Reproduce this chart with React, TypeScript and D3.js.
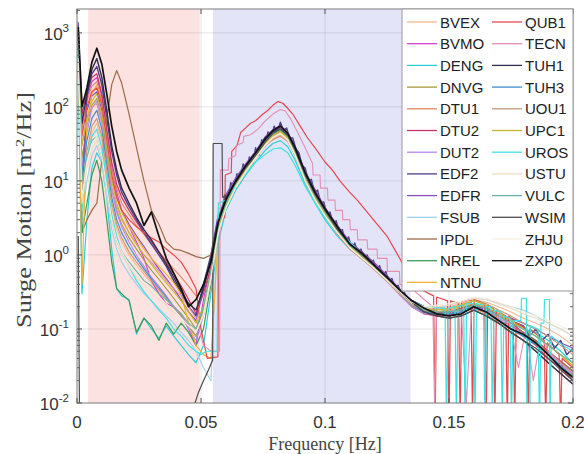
import React from 'react';
import * as d3 from 'd3';

// ---------- axes ----------
const X_DOMAIN: [number, number] = [0, 0.2];
const Y_DOMAIN: [number, number] = [0.01, 2100];
const X_TICKS = [0, 0.05, 0.1, 0.15, 0.2];
const X_TICK_LABELS = ['0', '0.05', '0.1', '0.15', '0.2'];
const Y_EXPONENTS = [-2, -1, 0, 1, 2, 3];
const RED_BAND = [0.0045, 0.0495];
const BLUE_BAND = [0.0548, 0.1345];

// ---------- shared frequency grid ----------
const F = [
  0.0005, 0.002, 0.004, 0.006, 0.008, 0.010, 0.012, 0.014, 0.016, 0.018,
  0.021, 0.024, 0.027, 0.030, 0.033, 0.036, 0.039, 0.042, 0.045, 0.048,
  0.051, 0.054, 0.057, 0.060, 0.064, 0.068, 0.072, 0.076, 0.079, 0.082,
  0.085, 0.088, 0.092, 0.096, 0.100, 0.105, 0.110, 0.115, 0.120, 0.125,
  0.130, 0.135, 0.140, 0.145, 0.150, 0.155, 0.160, 0.165, 0.170, 0.175,
  0.180, 0.185, 0.190, 0.195, 0.200,
];

const BVEX = [
  600, 6, 20, 45, 60, 35, 12, 4.5, 2.3, 1.5,
  1.0, 0.72, 0.55, 0.42, 0.32, 0.25, 0.19, 0.15, 0.11, 0.08,
  0.16, 0.5, 2.2, 4.5, 8.5, 13.5, 21, 32, 39, 44,
  36, 23, 10.5, 5.8, 3.5, 2, 1.25, 0.92, 0.66, 0.46,
  0.31, 0.22, 0.19, 0.19, 0.2, 0.22, 0.25, 0.23, 0.2, 0.17,
  0.14, 0.12, 0.1, 0.08, 0.06,
];
const BVMO = [
  1100, 120, 130, 220, 250, 140, 45, 15, 7, 4,
  2.4, 1.5, 0.9, 0.45, 0.3, 0.22, 0.2, 0.16, 0.1, 0.06,
  0.25, 0.7, 2.8, 5.5, 10, 16, 24, 37, 47, 54,
  43, 27, 13, 7.5, 4.3, 2.4, 1.45, 1.05, 0.75, 0.5,
  0.33, 0.22, 0.18, 0.17, 0.17, 0.18, 0.21, 0.18, 0.14, 0.11,
  0.09, 0.07, 0.05, 0.035, 0.025,
];
const DENG = [
  300, 0.3, 3, 15, 24, 18, 6, 1.2, 0.35, 0.28,
  0.25, 0.085, 0.14, 0.1, 0.075, 0.11, 0.08, 0.06, 0.045, 0.035,
  0.06, 0.3, 1.5, 4, 7.5, 12, 18, 26, 32, 35,
  29, 19, 9, 5, 3, 1.8, 1.2, 0.9, 0.65, 0.45,
  0.3, 0.21, 0.17, 0.16, 0.17, 0.18, 0.2, 0.18, 0.15, 0.12,
  0.1, 0.09, 0.07, 0.05, 0.035,
];
const DNVG = [
  850, 20, 55, 105, 130, 70, 24, 8, 4, 2.6,
  1.7, 1.2, 0.85, 0.62, 0.47, 0.35, 0.26, 0.19, 0.14, 0.1,
  0.18, 0.55, 2.3, 4.6, 8.8, 14, 21, 32, 41, 46,
  37, 23, 10.5, 5.8, 3.5, 2, 1.25, 0.9, 0.65, 0.45,
  0.3, 0.21, 0.17, 0.17, 0.18, 0.2, 0.22, 0.19, 0.15, 0.12,
  0.09, 0.07, 0.05, 0.036, 0.026,
];
const DTU1 = [
  950, 50, 120, 190, 220, 120, 40, 14, 8, 5,
  3.5, 2.5, 1.9, 1.4, 1.1, 0.85, 0.65, 0.5, 0.38, 0.28,
  0.35, 0.8, 2.4, 4.5, 8.5, 14, 21, 30, 36, 40,
  34, 22, 10, 5.5, 3.5, 2.0, 1.3, 0.95, 0.65, 0.45,
  0.3, 0.21, 0.17, 0.16, 0.16, 0.17, 0.19, 0.16, 0.12, 0.09,
  0.07, 0.05, 0.035, 0.025, 0.018,
];
const DTU2 = [
  900, 80, 160, 250, 280, 150, 50, 18, 9, 6,
  4, 2.8, 2, 1.5, 1.1, 0.8, 0.55, 0.38, 0.25, 0.16,
  0.3, 0.7, 2.6, 5, 9, 15, 22, 35, 45, 51,
  41, 26, 12, 6.8, 4, 2.3, 1.4, 1.0, 0.7, 0.47,
  0.3, 0.2, 0.16, 0.15, 0.15, 0.17, 0.19, 0.17, 0.13, 0.1,
  0.08, 0.06, 0.04, 0.03, 0.02,
];
const DUT2 = [
  800, 15, 45, 95, 120, 65, 22, 7.5, 3.8, 2.4,
  1.5, 1.0, 0.7, 0.5, 0.38, 0.28, 0.2, 0.15, 0.1, 0.07,
  0.15, 0.5, 2.2, 4.4, 8.5, 13.5, 20.5, 31, 40, 45,
  36, 22.5, 10.2, 5.6, 3.4, 1.95, 1.2, 0.88, 0.63, 0.44,
  0.29, 0.2, 0.16, 0.16, 0.17, 0.19, 0.21, 0.18, 0.14, 0.11,
  0.085, 0.065, 0.048, 0.034, 0.024,
];
const EDFR = [
  1400, 8, 90, 140, 160, 90, 30, 11, 6, 4,
  2.6, 1.8, 1.3, 0.9, 0.65, 0.48, 0.35, 0.25, 0.17, 0.13,
  0.35, 0.9, 3.2, 6.5, 11, 17, 25, 40, 49, 56,
  45, 29, 13.5, 7.6, 4.4, 2.5, 1.5, 1.1, 0.78, 0.53,
  0.35, 0.24, 0.19, 0.17, 0.16, 0.17, 0.2, 0.19, 0.16, 0.14,
  0.12, 0.1, 0.08, 0.065, 0.055,
];
const FSUB = [
  500, 3, 10, 22, 30, 18, 6, 2.2, 1.2, 0.8,
  0.55, 0.4, 0.3, 0.24, 0.19, 0.15, 0.12, 0.09, 0.07, 0.05,
  0.03, 0.02, 4, 5.5, 9, 14, 21, 32, 41, 46,
  37, 23, 10.5, 5.7, 3.5, 2, 1.25, 0.92, 0.66, 0.46,
  0.31, 0.22, 0.19, 0.19, 0.21, 0.23, 0.26, 0.25, 0.22, 0.2,
  0.18, 0.15, 0.12, 0.1, 0.08,
];
const IPDL = [
  700, 2, 3, 4, 5, 19, 70, 200, 310, 210,
  80, 28, 10, 4, 2.6, 1.5, 1.2, 1.15, 1.05, 0.95,
  0.9, 1.0, 2.5, 4.8, 9, 14.5, 22, 33, 42, 47,
  38, 24, 11, 6, 3.6, 2.1, 1.3, 0.95, 0.68, 0.47,
  0.32, 0.22, 0.18, 0.17, 0.17, 0.19, 0.22, 0.19, 0.15, 0.12,
  0.09, 0.07, 0.05, 0.037, 0.027,
];
const NREL = [
  500, 2, 5, 12, 19, 10, 3, 0.8, 0.35, 0.3,
  0.24, 0.09, 0.14, 0.11, 0.07, 0.12, 0.085, 0.12, 0.09, 0.06,
  0.1, 0.4, 2.2, 5, 9, 14, 21, 33, 42, 48,
  39, 24, 11, 6, 3.6, 2.1, 1.3, 0.95, 0.68, 0.46,
  0.31, 0.22, 0.17, 0.16, 0.16, 0.17, 0.2, 0.17, 0.13, 0.1,
  0.08, 0.065, 0.045, 0.032, 0.023,
];
const NTNU = [
  1000, 0.4, 60, 150, 200, 110, 35, 12, 6, 3.8,
  2.4, 1.7, 1.2, 0.9, 0.7, 0.55, 0.42, 0.3, 0.12, 0.06,
  0.045, 0.04, 2, 4.5, 8.5, 14, 21, 32, 40, 45,
  37, 23, 10, 5.6, 3.4, 2, 1.25, 0.92, 0.65, 0.45,
  0.3, 0.22, 0.18, 0.17, 0.18, 0.2, 0.22, 0.2, 0.16, 0.13,
  0.1, 0.08, 0.06, 0.045, 0.03,
];
const TUH1 = [
  1000, 60, 150, 320, 450, 250, 90, 30, 14, 8,
  5, 3.2, 2.2, 1.6, 1.1, 0.75, 0.5, 0.32, 0.22, 0.18,
  0.35, 0.9, 3, 6, 10, 15, 23, 36, 46, 50,
  40, 26, 12, 6.5, 3.9, 2.2, 1.35, 1.0, 0.7, 0.48,
  0.32, 0.22, 0.17, 0.15, 0.14, 0.15, 0.18, 0.15, 0.12, 0.09,
  0.07, 0.05, 0.035, 0.025, 0.018,
];
const TUH3 = [
  750, 12, 35, 70, 90, 50, 17, 6, 3, 2,
  1.3, 0.9, 0.65, 0.48, 0.36, 0.27, 0.2, 0.15, 0.11, 0.08,
  0.16, 0.5, 2.3, 4.7, 9, 14.5, 22, 34, 44, 50,
  40, 25, 11.5, 6.2, 3.8, 2.15, 1.3, 0.96, 0.68, 0.46,
  0.31, 0.21, 0.17, 0.16, 0.16, 0.17, 0.2, 0.17, 0.13, 0.1,
  0.08, 0.062, 0.045, 0.032, 0.022,
];
const UOU1 = [
  700, 8, 25, 55, 70, 40, 14, 5, 2.6, 1.7,
  1.1, 0.8, 0.6, 0.45, 0.34, 0.26, 0.2, 0.15, 0.11, 0.08,
  0.17, 0.5, 2.1, 4.3, 8.2, 13, 20, 30, 37, 42,
  35, 22, 10, 5.5, 3.3, 1.9, 1.2, 0.88, 0.63, 0.44,
  0.3, 0.21, 0.18, 0.18, 0.19, 0.21, 0.24, 0.22, 0.18, 0.15,
  0.12, 0.1, 0.08, 0.06, 0.045,
];
const UPC1 = [
  900, 30, 70, 120, 150, 80, 28, 10, 5, 3.2,
  2, 1.4, 1.0, 0.75, 0.55, 0.42, 0.32, 0.24, 0.17, 0.12,
  0.2, 0.6, 2.4, 4.8, 9, 14.5, 22, 33, 42, 47,
  38, 24, 11, 6, 3.7, 2.1, 1.3, 0.95, 0.68, 0.47,
  0.32, 0.23, 0.19, 0.18, 0.19, 0.21, 0.24, 0.21, 0.17, 0.13,
  0.1, 0.08, 0.06, 0.045, 0.032,
];
const USTU = [
  400, 5, 15, 28, 35, 20, 7, 2.8, 1.5, 1.0,
  0.7, 0.5, 0.4, 0.32, 0.26, 0.21, 0.17, 0.14, 0.11, 0.09,
  0.15, 0.45, 2, 4.2, 8, 13, 20, 30, 38, 43,
  35, 22, 10, 5.5, 3.4, 2, 1.25, 0.9, 0.65, 0.45,
  0.31, 0.22, 0.19, 0.2, 0.21, 0.23, 0.26, 0.25, 0.22, 0.19,
  0.16, 0.14, 0.12, 0.1, 0.08,
];
const VULC = [
  700, 10, 20, 35, 40, 22, 8, 3, 1.6, 1.1,
  0.8, 0.6, 0.45, 0.38, 0.3, 0.25, 0.2, 0.16, 0.12, 0.1,
  0.2, 0.6, 2.5, 5, 9.5, 15, 22, 34, 43, 49,
  40, 25, 11.5, 6.2, 3.8, 2.2, 1.35, 1.0, 0.7, 0.48,
  0.32, 0.23, 0.18, 0.17, 0.17, 0.18, 0.21, 0.19, 0.15, 0.12,
  0.1, 0.08, 0.06, 0.045, 0.035,
];
const ZHJU = [
  450, 6, 18, 32, 40, 22, 8, 3, 1.6, 1.1,
  0.75, 0.55, 0.42, 0.33, 0.27, 0.22, 0.18, 0.14, 0.11, 0.09,
  0.16, 0.5, 2.1, 4.3, 8.3, 13.5, 20.5, 31, 39, 44,
  36, 22.5, 10.2, 5.6, 3.4, 2, 1.25, 0.9, 0.65, 0.46,
  0.32, 0.23, 0.2, 0.21, 0.22, 0.24, 0.27, 0.26, 0.23, 0.2,
  0.17, 0.15, 0.13, 0.11, 0.09,
];
const ZXP0 = [
  1200, 100, 180, 400, 620, 380, 150, 55, 25, 14,
  8, 5, 2.5, 3.8, 1.8, 0.9, 0.57, 0.35, 0.2, 0.25,
  0.4, 0.8, 2.8, 5.5, 10, 16, 24, 38, 48, 55,
  44, 28, 13, 7, 4.2, 2.4, 1.4, 1.05, 0.72, 0.5,
  0.34, 0.24, 0.19, 0.16, 0.15, 0.16, 0.2, 0.17, 0.13, 0.1,
  0.085, 0.065, 0.045, 0.03, 0.022,
];

// ---------- series with their own frequency samples ----------
const EDF2_F = [
  0.0005, 0.002, 0.004, 0.006, 0.008, 0.010, 0.012, 0.014, 0.016, 0.018,
  0.021, 0.024, 0.027, 0.030, 0.033, 0.036, 0.039, 0.042, 0.045, 0.048,
  0.051, 0.054, 0.0570, 0.0583, 0.0595, 0.0608, 0.0620, 0.0633, 0.0645, 0.0658,
  0.0670, 0.0683, 0.0695, 0.0708, 0.0720, 0.0733, 0.0745, 0.0758, 0.0770, 0.0783,
  0.0795, 0.0808, 0.0820, 0.0833, 0.0845, 0.0858, 0.0870, 0.0883, 0.0895, 0.0908,
  0.0920, 0.0933, 0.0945, 0.0958, 0.0970, 0.0983, 0.0995, 0.1008, 0.1020, 0.1033,
  0.1045, 0.1058, 0.1070, 0.1083, 0.1095, 0.1108, 0.1120, 0.1133, 0.1145, 0.1158,
  0.1170, 0.1183, 0.1195, 0.1208, 0.1220, 0.1233, 0.1245, 0.1258, 0.1270, 0.1283,
  0.1295, 0.1308, 0.1320, 0.1333, 0.1345, 0.140, 0.145, 0.150, 0.155, 0.160,
  0.165, 0.170, 0.175, 0.180, 0.1825, 0.185, 0.1875, 0.190, 0.1925, 0.195,
  0.1975, 0.200,
];
const EDF2_V = [
  1300, 5, 140, 280, 350, 200, 70, 25, 12, 7,
  4.5, 3, 2, 1.4, 1.0, 0.7, 0.45, 0.3, 0.2, 0.15,
  0.4, 1.0, 3.5, 2.8, 6.5, 5.2, 9.5, 7.5, 12.5, 10,
  17, 13.5, 21, 17, 28, 22, 36, 29, 46, 38,
  55, 45, 62, 48, 52, 38, 38, 27, 24, 16,
  15, 10, 10.5, 7, 7.5, 5, 5.2, 3.5, 3.8, 2.6,
  2.9, 2.0, 2.2, 1.5, 1.75, 1.25, 1.45, 1.05, 1.2, 0.9,
  1.0, 0.75, 0.85, 0.62, 0.72, 0.52, 0.6, 0.43, 0.48, 0.35,
  0.39, 0.29, 0.31, 0.24, 0.25, 0.2, 0.17, 0.16, 0.17, 0.2,
  0.19, 0.16, 0.13, 0.11, 0.08, 0.1, 0.07, 0.085, 0.055, 0.07,
  0.045, 0.055,
];
const QUB1_F = [
  0.0005, 0.002, 0.004, 0.006, 0.008, 0.010, 0.012, 0.014, 0.016, 0.018,
  0.021, 0.024, 0.027, 0.030, 0.033, 0.036, 0.039, 0.042, 0.045, 0.048,
  0.050, 0.0525, 0.0568, 0.0572, 0.0596, 0.0598, 0.0622, 0.0624, 0.0645, 0.066,
  0.068, 0.070, 0.072, 0.075, 0.077, 0.079, 0.081, 0.083, 0.085, 0.087,
  0.090, 0.093, 0.096, 0.100, 0.103, 0.106, 0.110, 0.113, 0.117, 0.121,
  0.125, 0.128, 0.131, 0.134, 0.138, 0.1438, 0.1444, 0.145, 0.1494, 0.150,
  0.1506, 0.1539, 0.1545, 0.1551, 0.1589, 0.1595, 0.1601, 0.1644, 0.165, 0.1656,
  0.1679, 0.1685, 0.1691, 0.1729, 0.1735, 0.1741, 0.1759, 0.1765, 0.1771, 0.1814,
  0.182, 0.1826, 0.1884, 0.189, 0.1896, 0.1944, 0.195, 0.1956, 0.200,
];
const QUB1_V = [
  1000, 40, 100, 160, 180, 110, 35, 12, 6, 4,
  3, 2.4, 2, 1.7, 1.5, 1.2, 1.0, 0.8, 0.55, 0.35,
  0.1, 0.04, 0.042, 3, 3.2, 12, 13, 25, 30, 45,
  52, 60, 65, 80, 90, 105, 118, 112, 95, 80,
  55, 38, 28, 18, 14, 10, 7, 5.5, 3.8, 2.6,
  1.8, 1.2, 0.8, 0.5, 0.35, 0.28, 0.005, 0.27, 0.24, 0.005,
  0.24, 0.22, 0.005, 0.23, 0.25, 0.005, 0.25, 0.22, 0.005, 0.21,
  0.19, 0.005, 0.18, 0.15, 0.005, 0.15, 0.13, 0.005, 0.12, 0.1,
  0.005, 0.1, 0.07, 0.005, 0.065, 0.045, 0.005, 0.04, 0.03,
];
const TECN_F = [
  0.0005, 0.002, 0.004, 0.006, 0.008, 0.010, 0.012, 0.014, 0.016, 0.018,
  0.021, 0.024, 0.027, 0.030, 0.033, 0.036, 0.039, 0.042, 0.045, 0.048,
  0.051, 0.054, 0.0575, 0.0578, 0.061, 0.0612, 0.064, 0.0642, 0.067, 0.0672,
  0.070, 0.073, 0.076, 0.079, 0.082, 0.084, 0.086, 0.089, 0.092, 0.095,
  0.0952, 0.098, 0.0982, 0.101, 0.1012, 0.104, 0.1042, 0.107, 0.1072, 0.110,
  0.1102, 0.113, 0.1132, 0.117, 0.1172, 0.121, 0.1212, 0.125, 0.1252, 0.130,
  0.1302, 0.135, 0.140, 0.1435, 0.1442, 0.145, 0.150, 0.155, 0.157, 0.159,
  0.162, 0.165, 0.170, 0.1745, 0.178, 0.181, 0.184, 0.187, 0.190, 0.195,
  0.200,
];
const TECN_V = [
  800, 30, 70, 100, 110, 60, 20, 8, 4.5, 3,
  2, 1.4, 1.0, 0.8, 0.6, 0.45, 0.35, 0.28, 0.2, 0.14,
  0.06, 0.05, 0.05, 14, 14, 20, 22, 30, 33, 40,
  42, 50, 65, 80, 92, 88, 70, 45, 28, 17,
  12, 12, 8, 8, 5.5, 5.5, 4, 4, 3, 3,
  2.2, 2.2, 1.6, 1.6, 1.2, 1.2, 0.9, 0.9, 0.6, 0.6,
  0.4, 0.35, 0.25, 0.2, 0.008, 0.2, 0.18, 0.17, 0.01, 0.17,
  0.19, 0.17, 0.14, 0.12, 0.03, 0.1, 0.02, 0.08, 0.05, 0.035,
  0.025,
];
const UROS_F = [
  0.0005, 0.002, 0.004, 0.006, 0.008, 0.010, 0.012, 0.014, 0.016, 0.018,
  0.021, 0.024, 0.027, 0.030, 0.033, 0.036, 0.039, 0.042, 0.045, 0.048,
  0.050, 0.052, 0.055, 0.0565, 0.057, 0.060, 0.064, 0.068, 0.072, 0.076,
  0.079, 0.082, 0.085, 0.088, 0.092, 0.096, 0.100, 0.105, 0.110, 0.115,
  0.120, 0.125, 0.130, 0.135, 0.140, 0.1484, 0.149, 0.1496, 0.1524, 0.153,
  0.1536, 0.1559, 0.1565, 0.1571, 0.1599, 0.1605, 0.1611, 0.1639, 0.1645, 0.1651,
  0.1669, 0.1675, 0.1681, 0.1709, 0.1715, 0.1721, 0.1746, 0.1752, 0.1758, 0.179,
  0.1792, 0.1812, 0.1814, 0.1826, 0.1828, 0.1859, 0.1865, 0.1871, 0.1883, 0.1885,
  0.1905, 0.1907, 0.1913, 0.196, 0.200,
];
const UROS_V = [
  600, 4, 20, 40, 50, 28, 10, 3.5, 1.8, 1.1,
  0.7, 0.45, 0.32, 0.24, 0.18, 0.14, 0.1, 0.08, 0.06, 0.05,
  0.045, 0.05, 0.05, 0.05, 5, 5.5, 8.5, 13, 18, 23,
  27, 28, 24, 16, 8.5, 5, 3.2, 2, 1.5, 1.0,
  0.7, 0.48, 0.33, 0.24, 0.2, 0.19, 0.005, 0.19, 0.2, 0.005,
  0.2, 0.21, 0.005, 0.22, 0.22, 0.005, 0.22, 0.21, 0.005, 0.2,
  0.2, 0.005, 0.18, 0.17, 0.005, 0.15, 0.14, 0.005, 0.13, 0.13,
  0.26, 0.26, 0.005, 0.005, 0.11, 0.1, 0.005, 0.12, 0.12, 0.25,
  0.25, 0.005, 0.08, 0.06, 0.05,
];
const WSIM_F = [
  0.0005, 0.0012, 0.046, 0.0476, 0.049, 0.051, 0.053, 0.0547, 0.0549, 0.0585,
  0.0587, 0.061, 0.064, 0.068, 0.072, 0.076, 0.079, 0.082, 0.085, 0.088,
  0.092, 0.096, 0.100, 0.105, 0.110, 0.115, 0.120, 0.125, 0.130, 0.135,
  0.140, 0.145, 0.150, 0.155, 0.160, 0.165, 0.170, 0.175, 0.180, 0.185,
  0.190, 0.195, 0.200,
];
const WSIM_V = [
  1.8, 0.001, 0.001, 0.01, 0.014, 0.02, 0.028, 0.038, 32, 32,
  6, 6.5, 9.5, 15, 22, 34, 44, 50, 41, 26,
  12, 6.5, 4, 2.2, 1.4, 1.0, 0.7, 0.48, 0.32, 0.23,
  0.17, 0.15, 0.14, 0.15, 0.18, 0.15, 0.12, 0.09, 0.07, 0.055,
  0.04, 0.028, 0.02,
];

const NAMES = [
  'BVEX', 'BVMO', 'DENG', 'DNVG', 'DTU1', 'DTU2', 'DUT2', 'EDF2', 'EDFR', 'FSUB', 'IPDL', 'NREL', 'NTNU',
  'QUB1', 'TECN', 'TUH1', 'TUH3', 'UOU1', 'UPC1', 'UROS', 'USTU', 'VULC', 'WSIM', 'ZHJU', 'ZXP0',
];
const COLORS = [
  '#f4b98a', '#d33fd3', '#2ccfd8', '#a89a3a', '#e0876a', '#cc3366', '#b68ae6', '#4f3f88', '#8650b8',
  '#9fd0ea', '#9c6b4a', '#3a9a5a', '#f2b233', '#e5494f', '#e58fb5', '#2e2e4e', '#3f8fd0', '#c49a7a',
  '#c4b52a', '#3fe3e3', '#efdcc4', '#6bb3a3', '#4d4d4d', '#f6eedd', '#111111',
];
const WIDTHS = [
  1.1, 1.2, 1.2, 1.1, 1.1, 1.2, 1.1, 1.4, 1.2, 1.1, 1.2, 1.2, 1.2,
  1.2, 1.1, 1.4, 1.2, 1.1, 1.1, 1.2, 1.1, 1.1, 1.2, 1.1, 1.7,
];
const DATA: [number[], number[]][] = [
  [F, BVEX], [F, BVMO], [F, DENG], [F, DNVG], [F, DTU1], [F, DTU2], [F, DUT2], [EDF2_F, EDF2_V], [F, EDFR],
  [F, FSUB], [F, IPDL], [F, NREL], [F, NTNU], [QUB1_F, QUB1_V], [TECN_F, TECN_V], [F, TUH1], [F, TUH3],
  [F, UOU1], [F, UPC1], [UROS_F, UROS_V], [F, USTU], [F, VULC], [WSIM_F, WSIM_V], [F, ZHJU], [F, ZXP0],
];

const M = { left: 77, right: 573, top: 9, bottom: 403 };
const SANS = '"Liberation Sans", Arial, Helvetica, sans-serif';
const SERIF = '"Liberation Serif", "Times New Roman", serif';

export default function App() {
  const x = d3.scaleLinear().domain(X_DOMAIN).range([M.left, M.right]);
  const y = d3.scaleLog().domain(Y_DOMAIN).range([M.bottom, M.top]);
  const line = d3
    .line<[number, number]>()
    .x((d) => x(d[0]))
    .y((d) => y(Math.max(d[1], 1e-4)));

  const minor: number[] = [];
  Y_EXPONENTS.forEach((e) => {
    for (let k = 2; k <= 9; k++) {
      const v = k * Math.pow(10, e);
      if (v <= Y_DOMAIN[1]) minor.push(v);
    }
  });

  const legX = 402, legY = 9, legW = 171, legH = 282;
  const rowY0 = 22, rowH = 21.7;
  const colX = [407, 492];

  return (
    <svg width={584} height={454} style={{ position: 'absolute', left: 0, top: 0, background: '#fff' }}>
      <defs>
        <clipPath id="plotclip">
          <rect x={M.left} y={M.top} width={M.right - M.left} height={M.bottom - M.top} />
        </clipPath>
      </defs>
      <rect x={0} y={0} width={584} height={454} fill="#fff" />
      {/* bands */}
      <rect x={x(RED_BAND[0])} y={M.top} width={x(RED_BAND[1]) - x(RED_BAND[0])} height={M.bottom - M.top} fill="#fde2e2" />
      <rect x={x(BLUE_BAND[0])} y={M.top} width={x(BLUE_BAND[1]) - x(BLUE_BAND[0])} height={M.bottom - M.top} fill="#e4e4f8" />
      {/* grid */}
      {X_TICKS.slice(1, -1).map((t) => (
        <line key={'gx' + t} x1={x(t)} x2={x(t)} y1={M.top} y2={M.bottom} stroke="#000" strokeOpacity={0.1} />
      ))}
      {Y_EXPONENTS.slice(1).map((e) => (
        <line key={'gy' + e} x1={M.left} x2={M.right} y1={y(Math.pow(10, e))} y2={y(Math.pow(10, e))} stroke="#000" strokeOpacity={0.1} />
      ))}
      {/* series */}
      <g clipPath="url(#plotclip)">
        {DATA.map(([fs, vs], i) => (
          <path
            key={NAMES[i]}
            d={line(d3.zip(fs, vs) as [number, number][]) || ''}
            fill="none"
            stroke={COLORS[i]}
            strokeWidth={WIDTHS[i]}
            strokeLinejoin="round"
          />
        ))}
      </g>
      {/* frame */}
      <rect x={M.left} y={M.top} width={M.right - M.left} height={M.bottom - M.top} fill="none" stroke="#7a7a7a" strokeWidth={1} />
      {/* x ticks */}
      {X_TICKS.map((t, i) => (
        <g key={'xt' + t}>
          <line x1={x(t)} x2={x(t)} y1={M.bottom} y2={M.bottom - 5} stroke="#555" />
          <line x1={x(t)} x2={x(t)} y1={M.top} y2={M.top + 5} stroke="#555" />
          <text x={x(t)} y={428} textAnchor="middle" fontFamily={SANS} fontSize={17} fill="#333">
            {X_TICK_LABELS[i]}
          </text>
        </g>
      ))}
      {/* y ticks */}
      {Y_EXPONENTS.map((e) => {
        const yy = y(Math.pow(10, e));
        return (
          <g key={'yt' + e}>
            <line x1={M.left} x2={M.left + 5} y1={yy} y2={yy} stroke="#555" />
            <line x1={M.right} x2={M.right - 5} y1={yy} y2={yy} stroke="#555" />
            <text x={69} y={yy + 7} textAnchor="end" fontFamily={SANS} fontSize={17} fill="#333">
              10
              <tspan dy={-8} fontSize={11.5}>{String(e)}</tspan>
            </text>
          </g>
        );
      })}
      {minor.map((v) => (
        <g key={'ym' + v}>
          <line x1={M.left} x2={M.left + 3} y1={y(v)} y2={y(v)} stroke="#666" />
          <line x1={M.right} x2={M.right - 3} y1={y(v)} y2={y(v)} stroke="#666" />
        </g>
      ))}
      {/* axis labels */}
      <text x={325} y={450} textAnchor="middle" fontFamily={SERIF} fontSize={18} fill="#444">
        Frequency [Hz]
      </text>
      <text
        transform={`translate(31,210) rotate(-90)`}
        textAnchor="middle"
        fontFamily={SERIF}
        fontSize={20}
        fill="#444"
        textLength={236}
        lengthAdjust="spacingAndGlyphs"
      >
        Surge Motion [m<tspan dy={-7} fontSize={13}>2</tspan><tspan dy={7}>/Hz]</tspan>
      </text>
      {/* legend */}
      <rect x={legX} y={legY} width={legW} height={legH} fill="#fff" stroke="#999" strokeWidth={1} />
      {NAMES.map((n, i) => {
        const col = i < 13 ? 0 : 1;
        const row = i < 13 ? i : i - 13;
        const yy = rowY0 + row * rowH;
        const lx = colX[col];
        return (
          <g key={'lg' + n}>
            <line x1={lx} x2={lx + 30} y1={yy} y2={yy} stroke={COLORS[i]} strokeWidth={1.3} />
            <text x={lx + 33} y={yy + 5.5} fontFamily={SANS} fontSize={15} fill="#222">
              {n}
            </text>
          </g>
        );
      })}
    </svg>
  );
}
